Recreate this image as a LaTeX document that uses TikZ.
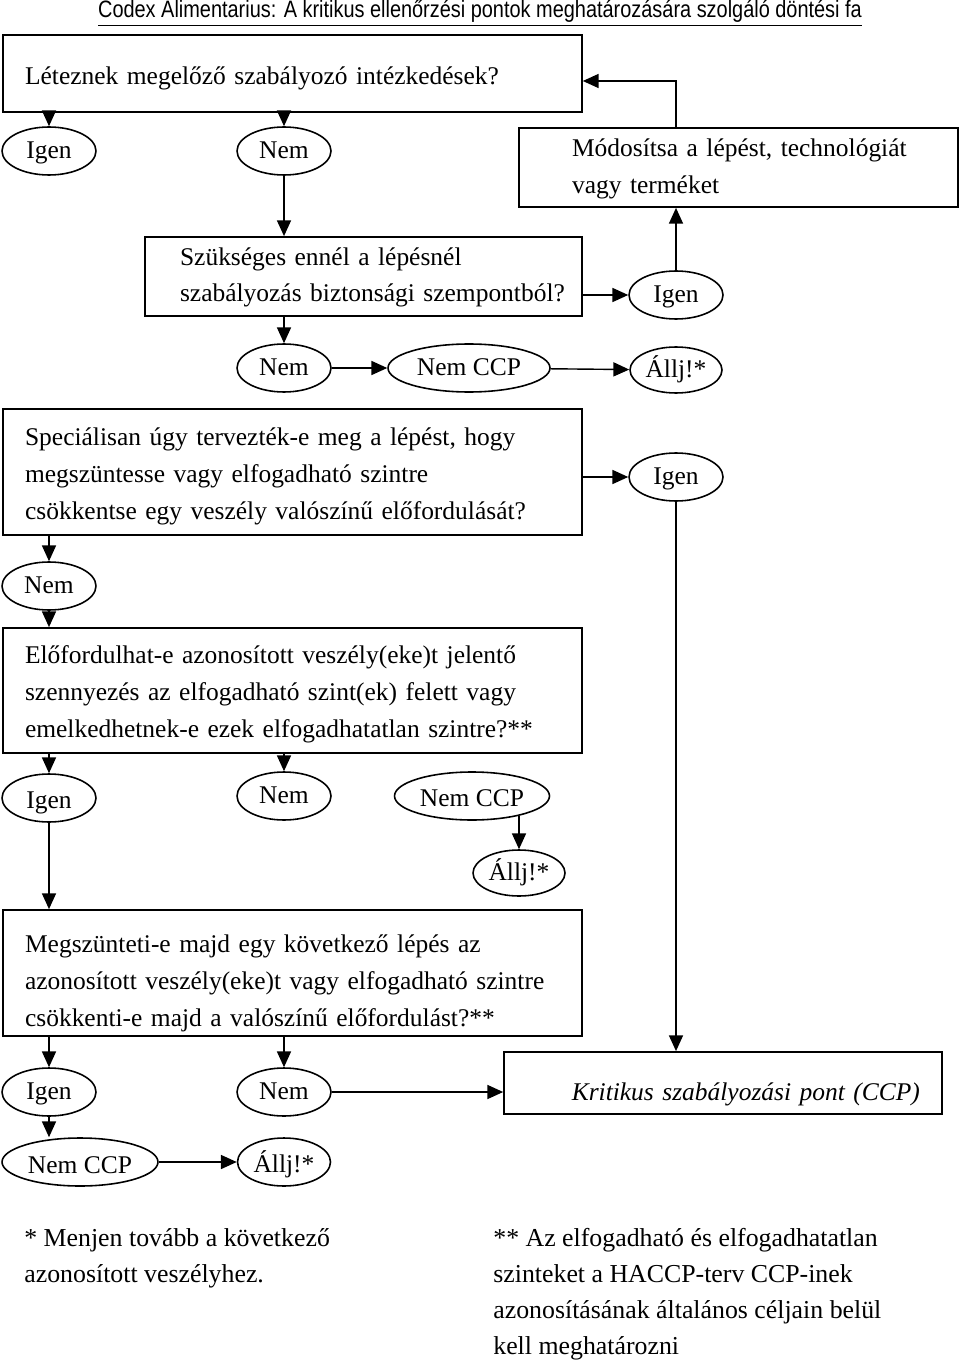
\documentclass[tikz,border=0pt]{standalone}
\usepackage{fontspec}
\setmainfont{Liberation Serif}
\newfontfamily\titlefont{Liberation Sans}
\usetikzlibrary{arrows.meta,shapes.geometric}

\tikzset{
  qbox/.style={draw, rectangle, line width=1pt, inner sep=0pt, align=left,
    font=\fontsize{14.5}{21}\selectfont},
  answer/.style={draw, ellipse, line width=0.9pt, inner sep=0pt,
    minimum width=1.88cm, minimum height=0.96cm, text height=12pt, text depth=3pt,
    font=\fontsize{14.5}{16}\selectfont},
  flow/.style={line width=0.8pt, -{Triangle[length=9pt,width=8pt]}},
  note/.style={inner sep=0pt, anchor=north west, align=left,
    font=\fontsize{14.7}{20.4}\selectfont},
}

\begin{document}
\begin{tikzpicture}[x=0.02cm, y=-0.02cm]
    \useasboundingbox (0,0) rectangle (960,1361);

    % title
    \node [anchor=base, inner sep=0pt, font=\titlefont\fontsize{13.5}{15}\selectfont] (title) at (480,18)
        {\scalebox{0.84}[1]{\underline{Codex Alimentarius: A kritikus ellenőrzési pontok meghatározására szolgáló döntési fa}}};

    % question boxes
    \node [qbox, minimum width=11.58cm, minimum height=1.54cm, text width=10.7cm,
        text height=17pt, text depth=4pt] (q1) at (292.5,73.5)
        {Léteznek megelőző szabályozó intézkedések?};
    \node [qbox, minimum width=8.78cm, minimum height=1.58cm, text width=6.66cm,
        text height=13pt, text depth=25pt] (mod) at (738.5,167.5)
        {\mbox{Módosítsa a lépést, technológiát}\\\mbox{vagy terméket}};
    \node [qbox, minimum width=8.74cm, minimum height=1.58cm, text width=7.34cm,
        text height=12pt, text depth=25pt] (q2) at (363.5,276.5)
        {\mbox{Szükséges ennél a lépésnél}\\\mbox{szabályozás biztonsági szempontból?}};
    \node [qbox, minimum width=11.58cm, minimum height=2.52cm, text width=10.7cm,
        text height=16pt, text depth=46pt] (q3) at (292.5,472)
        {Speciálisan úgy tervezték-e meg a lépést, hogy\\megszüntesse vagy elfogadható szintre\\csökkentse egy veszély valószínű előfordulását?};
    \node [qbox, minimum width=11.58cm, minimum height=2.5cm, text width=10.7cm,
        text height=15pt, text depth=46pt] (q4) at (292.5,690.5)
        {Előfordulhat-e azonosított veszély(eke)t jelentő\\szennyezés az elfogadható szint(ek) felett vagy\\emelkedhetnek-e ezek elfogadhatatlan szintre?**};
    \node [qbox, minimum width=11.58cm, minimum height=2.52cm, text width=10.7cm,
        text height=23pt, text depth=46pt] (q5) at (292.5,973)
        {Megszünteti-e majd egy következő lépés az\\azonosított veszély(eke)t vagy elfogadható szintre\\csökkenti-e majd a valószínű előfordulást?**};
    \node [qbox, minimum width=8.76cm, minimum height=1.24cm, text width=7.88cm, align=right,
        text height=24pt, text depth=4pt] (ccp) at (723,1083)
        {\itshape Kritikus szabályozási pont (CCP)};

    % answers
    \node [answer] (i1) at (49,151) {Igen};
    \node [answer] (n1) at (284,151) {Nem};
    \node [answer] (i2) at (676,295) {Igen};
    \node [answer] (n2) at (284,368) {Nem};
    \node [answer, minimum width=3.24cm] (c2) at (469,368) {Nem CCP};
    \node [answer, minimum width=1.84cm, minimum height=0.92cm] (s2) at (676,370) {Állj!*};
    \node [answer] (i3) at (676,477) {Igen};
    \node [answer] (n3) at (49,586) {Nem};
    \node [answer, text height=15pt] (i4) at (49,798) {Igen};
    \node [answer] (n4) at (284,796) {Nem};
    \node [answer, minimum width=3.1cm, text height=15pt] (c4) at (472,796) {Nem CCP};
    \node [answer, minimum width=1.84cm, minimum height=0.92cm] (s4) at (519,873) {Állj!*};
    \node [answer] (i5) at (49,1092) {Igen};
    \node [answer] (n5) at (284,1092) {Nem};
    \node [answer, minimum width=3.12cm, text height=16pt] (c5) at (80,1162) {Nem CCP};
    \node [answer, minimum width=1.86cm, text height=15pt] (s5) at (284,1162) {Állj!*};

    % connectors
    \draw [flow] (q1.south -| i1) -- (i1);
    \draw [flow] (q1.south -| n1) -- (n1);
    \draw [flow] (n1) -- (n1 |- q2.north);
    \draw [flow] (q2.east |- i2) -- (i2);
    \draw [flow] (i2) -- (i2 |- mod.south);
    \draw [flow] (mod.north -| i2) |- ([yshift=-0.15cm]q1.east);
    \draw [flow] (q2.south -| n2) -- (n2);
    \draw [flow] (n2) -- (c2);
    \draw [flow] (c2) -- (s2);
    \draw [flow] (q3.east |- i3) -- (i3);
    \draw [flow] (i3) -- (i3 |- ccp.north);
    \draw [flow] (q3.south -| n3) -- (n3);
    \draw [flow] (n3) -- (n3 |- q4.north);
    \draw [flow] (q4.south -| i4) -- (i4);
    \draw [flow] (q4.south -| n4) -- (n4);
    \draw [flow] (s4 |- c4.-22.5) -- (s4.north);
    \draw [flow] (i4) -- (i4 |- q5.north);
    \draw [flow] (q5.south -| i5) -- (i5);
    \draw [flow] (q5.south -| n5) -- (n5);
    \draw [flow] (n5) -- (n5 -| ccp.west);
    \draw [flow] (i5) -- (i5 |- c5.north);
    \draw [flow] (c5) -- (s5);

    % footnotes
    \node [note] (fn1) at (24,1228) {* Menjen tovább a következő\\azonosított veszélyhez.};
    \node [note] (fn2) at (493,1228) {** Az elfogadható és elfogadhatatlan\\szinteket a HACCP-terv CCP-inek\\azonosításának általános céljain belül\\kell meghatározni};
\end{tikzpicture}
\end{document}
